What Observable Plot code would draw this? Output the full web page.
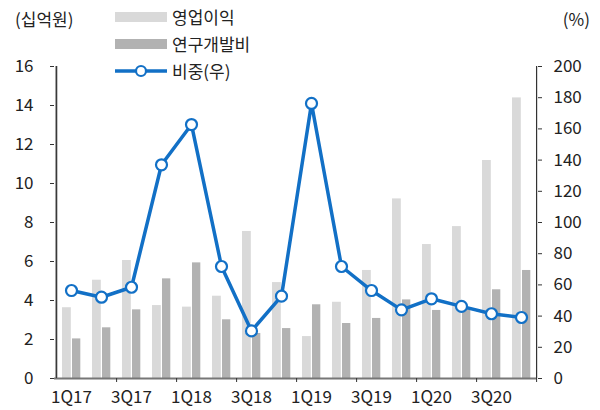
<!DOCTYPE html>
<html>
<head>
<meta charset="utf-8">
<script src="https://cdn.jsdelivr.net/npm/d3@7"></script>
<script src="https://cdn.jsdelivr.net/npm/@observablehq/plot@0.6"></script>
<style>
  html, body { margin: 0; padding: 0; background: #fff; }
  #wrap { position: relative; width: 600px; height: 410px; font-family: "Noto Sans CJK KR", "Noto Sans", sans-serif; color: #222; }
  .lbl { position: absolute; font-size: 17px; line-height: 1; white-space: nowrap; }
  .sw { position: absolute; }
</style>
</head>
<body>
<div id="wrap"></div>
<script>
const quarters = ["1Q17","2Q17","3Q17","4Q17","1Q18","2Q18","3Q18","4Q18","1Q19","2Q19","3Q19","4Q19","1Q20","2Q20","3Q20","4Q20"];
const operatingProfit = [3.63, 5.04, 6.05, 3.74, 3.66, 4.22, 7.54, 4.92, 2.15, 3.91, 5.54, 9.21, 6.87, 7.79, 11.18, 14.39];
const rndCost = [2.03, 2.60, 3.52, 5.11, 5.93, 3.01, 2.31, 2.56, 3.78, 2.82, 3.08, 4.03, 3.49, 3.55, 4.55, 5.54];
const ratio = [56.4, 52.1, 58.5, 137, 162.8, 71.8, 30.5, 52.8, 176.3, 71.8, 56.4, 44.0, 51.1, 46.2, 41.5, 39.1];
const leftTicks = [0, 2, 4, 6, 8, 10, 12, 14, 16];
const rightTicks = [0, 20, 40, 60, 80, 100, 120, 140, 160, 180, 200];
const labelQuarters = ["1Q17","3Q17","1Q18","3Q18","1Q19","3Q19","1Q20","3Q20"];
const legendLabels = ["영업이익", "연구개발비", "비중(우)"];
const units = ["(십억원)", "(%)"];

const colLight = "#d9d9d9", colDark = "#b2b2b2", colLine = "#1270c6", axisCol = "#767676", textCol = "#222";
const W = 600, H = 410, mL = 54, mR = 63, mT = 66, mB = 32;
const bw = (W - mL - mR) / quarters.length;
const scaleR = 16 / 200;

const data = quarters.map((q, i) => ({q, op: operatingProfit[i], rd: rndCost[i], r: ratio[i] * scaleR}));
const evenQuarters = quarters.filter((q, i) => i % 2 === 1);

const chart = Plot.plot({
  width: W, height: H,
  marginLeft: mL, marginRight: mR, marginTop: mT, marginBottom: mB,
  style: {fontFamily: '"Noto Sans CJK KR", "Noto Sans", sans-serif', fontSize: "17px", color: textCol, background: "white"},
  x: {type: "band", domain: quarters, padding: 0, axis: null},
  y: {domain: [0, 16], axis: null},
  marks: [
    Plot.barY(data, {x: "q", y: "op", fill: colLight, insetLeft: 6, insetRight: bw - 15}),
    Plot.barY(data, {x: "q", y: "rd", fill: colDark, insetLeft: 16, insetRight: bw - 24.5}),
    // axis lines
    Plot.ruleY([0], {stroke: axisCol, strokeWidth: 2}),
    Plot.ruleX([quarters[0]], {dx: -bw / 2, stroke: axisCol, strokeWidth: 2}),
    Plot.ruleX([quarters[quarters.length - 1]], {dx: bw / 2, stroke: "#333", strokeWidth: 1.2}),
    // left axis
    Plot.axisY({anchor: "left", ticks: leftTicks, tickSize: 4, tickPadding: 17, stroke: "#333", fill: textCol, fontSize: 17, label: null}),
    // right axis
    Plot.axisY({anchor: "right", ticks: rightTicks.map(v => v * scaleR), tickFormat: d => String(Math.round(d / scaleR)), tickSize: 4, tickPadding: 12, stroke: "#333", fill: textCol, fontSize: 17, label: null}),
    // x ticks at band boundaries
    Plot.axisX({ticks: evenQuarters, dx: bw / 2, tickSize: 4, tickFormat: () => "", stroke: "#333", label: null}),
    Plot.tickX([quarters[0]], {dx: -bw / 2, y1: 0, y2: -0.2, stroke: "#333"}),
    // x labels
    Plot.axisX({ticks: labelQuarters, tickSize: 0, tickPadding: 12, fill: textCol, fontSize: 17, label: null}),
    // ratio line
    Plot.line(data, {x: "q", y: "r", stroke: colLine, strokeWidth: 3.5}),
    Plot.dot(data, {x: "q", y: "r", r: 5.5, fill: "white", stroke: colLine, strokeWidth: 2.2})
  ]
});

const wrap = document.getElementById("wrap");
chart.style.position = "absolute";
chart.style.left = "0"; chart.style.top = "0";
wrap.appendChild(chart);

function addLabel(text, x, y, align) {
  const d = document.createElement("div");
  d.className = "lbl";
  d.textContent = text;
  d.style.top = (y - 9) + "px";
  if (align === "right") { d.style.right = (W - x) + "px"; } else { d.style.left = x + "px"; }
  wrap.appendChild(d);
}
addLabel(units[0], 15, 19);
addLabel(units[1], 590, 19, "right");

// legend
const legY = [17, 44, 71];
function addSwatch(color, y) {
  const s = document.createElement("div");
  s.className = "sw";
  s.style.left = "115px"; s.style.top = (y - 5) + "px";
  s.style.width = "52px"; s.style.height = "10px";
  s.style.background = color;
  wrap.appendChild(s);
}
addSwatch(colLight, legY[0]);
addSwatch(colDark, legY[1]);
const ls = document.createElementNS("http://www.w3.org/2000/svg", "svg");
ls.setAttribute("width", "60"); ls.setAttribute("height", "16");
ls.style.position = "absolute"; ls.style.left = "113px"; ls.style.top = (legY[2] - 8) + "px";
ls.innerHTML = `<line x1="2" y1="8" x2="54" y2="8" stroke="${colLine}" stroke-width="3.5"/><circle cx="28" cy="8" r="5" fill="white" stroke="${colLine}" stroke-width="2.2"/>`;
wrap.appendChild(ls);
legendLabels.forEach((t, i) => addLabel(t, 172, legY[i]));
</script>
</body>
</html>
